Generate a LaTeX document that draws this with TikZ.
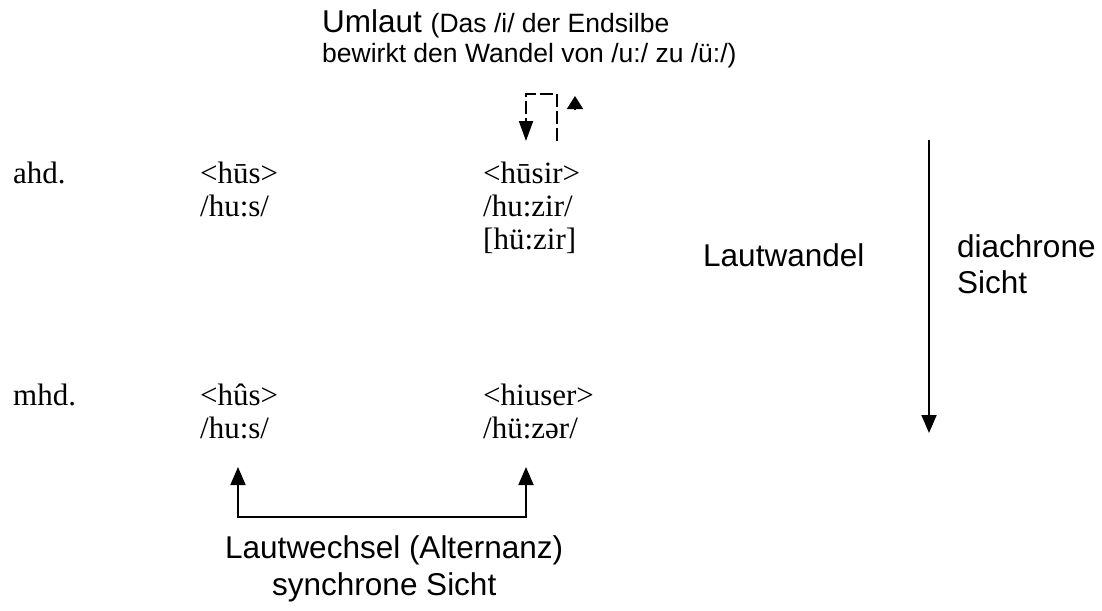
\documentclass[tikz,border=0pt]{standalone}
\usepackage{fontspec}
\setmainfont{Liberation Serif}
\newfontfamily\lsans{Liberation Sans}
\usepackage{tikz}
\usetikzlibrary{arrows.meta, positioning}

\tikzset{
    word/.style={anchor=base west, inner sep=0pt, font=\fontsize{31}{33}\selectfont},
    lab/.style={anchor=base west, inner sep=0pt, font=\lsans\fontsize{31.5}{36}\selectfont},
    note/.style={anchor=base west, inner sep=0pt, font=\lsans\fontsize{26.5}{30}\selectfont},
    >={Triangle[width=15pt, length=18pt]},
    arr/.style={line width=1.8pt, ->},
}

\begin{document}
\begin{tikzpicture}[x=1pt, y=-1pt]
        \useasboundingbox (0,0) rectangle (1102,610);

        % Umlaut
        \node[lab] (uml) at (322,33) {Umlaut \lsans\fontsize{26.5}{30}\selectfont(Das /i/ der Endsilbe};
        \node[note] (uml2) at (322,63) {bewirkt den Wandel von /u:/ zu /ü:/)};

        % ahd.
        \node[word] (ahd) at (13,183) {ahd.};
        \node[word] (hus) at (200,183) {<hūs>};
        \node[word] (husp) at (200,216) {/hu:s/};
        \node[word] (husir) at (483,183) {<hūsir>};
        \node[word] (husirp) at (483,216) {/hu:zir/};
        \node[word] (husirn) at (483,249) {[hü:zir]};

        % mhd.
        \node[word] (mhd) at (13,405) {mhd.};
        \node[word] (hous) at (200,405) {<hûs>};
        \node[word] (housp) at (200,438) {/hu:s/};
        \node[word] (hiuser) at (483,405) {<hiuser>};
        \node[word] (hiuserp) at (483,438) {/hü:zər/};

        \node[lab] (wandel) at (703,266) {Lautwandel};
        \node[lab, align=left] (dia) at (957,293) {diachrone\\Sicht};
        \node[lab] (wechsel) at (225,558) {Lautwechsel (Alternanz)};
        \node[lab] (syn) at (272,595) {synchrone Sicht};

        \coordinate (diaTop) at (929,140);
        \coordinate (diaEnd) at (929,433);
        \coordinate (umlS) at (557,141);
        \coordinate (umlA) at (557,94);
        \coordinate (umlB) at (526,94);
        \coordinate (umlE) at (526,141);
        \coordinate (umlU) at (575,110);
        \coordinate (umlV) at (575,96);
        \coordinate (tipL) at (238,467);
        \coordinate (altL) at (238,517);
        \coordinate (altR) at (526,517);
        \coordinate (tipR) at (526,467);

        \draw[arr] (diaTop) -- (diaEnd);
        \draw[arr, -{Triangle[width=14pt, length=20pt]}, dash pattern=on 13pt off 4pt] (umlS) -- (umlA) -- (umlB) -- (umlE);
        \draw[arr, -{Triangle[width=16pt, length=13pt]}] (umlU) -- (umlV);
        \draw[arr, <->] (tipL) -- (altL) -- (altR) -- (tipR);
    \end{tikzpicture}
\end{document}
